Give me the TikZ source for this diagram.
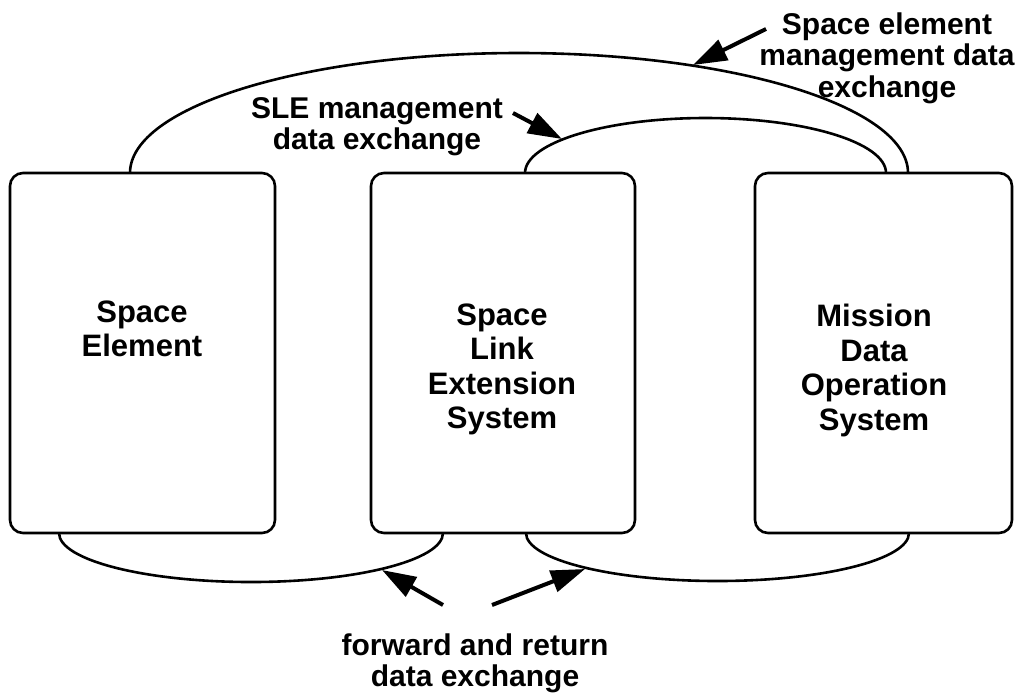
\documentclass[tikz,border=0pt]{standalone}
\usepackage{fontspec}
\setmainfont{Liberation Sans}
\usetikzlibrary{arrows.meta}
\tikzstyle{block}=[draw, line width=1.3pt, rounded corners=6.5pt, inner sep=0, outer sep=0, minimum height=180pt]
\tikzstyle{blocklabel}=[align=center, inner sep=0, anchor=north, font=\fontsize{15.5}{17.25}\selectfont\bfseries]
\tikzstyle{note}=[align=center, inner sep=0, anchor=north, font=\fontsize{15}{15.75}\selectfont\bfseries]
\tikzstyle{link}=[line width=1.3pt]
\tikzstyle{pointer}=[line width=2pt, -{Triangle[length=17pt, width=11pt]}]
\tikzstyle{overview}=[x=0.5pt, y=-0.5pt,
                      % Picture frame in pixel units of the page.
                      execute at begin picture={\useasboundingbox (0, 0) rectangle (1015, 692);}]

\begin{document}
\begin{tikzpicture}[overview]
    % The three systems.
    \node[block, minimum width=132.5pt] (se)   at (142.5, 353) {};
    \node[block, minimum width=132pt]   (sle)  at (503, 353)   {};
    \node[block, minimum width=128.5pt] (mdos) at (883.5, 353) {};
    \node[blocklabel] (setext)   at (142, 300) {Space\\Element};
    \node[blocklabel] (sletext)  at (502, 303) {Space\\Link\\Extension\\System};
    \node[blocklabel] (mdostext) at (874, 304) {Mission\\Data\\Operation\\System};

    % Exchanges between them.
    \draw[link] (se.north) ++(-12.5, 0) arc[start angle=180, end angle=360, x radius=389, y radius=120];
    \draw[link] (sle.north) ++(22, 0) arc[start angle=180, end angle=360, x radius=180.5, y radius=55];
    \draw[link] (se.south) ++(-83.5, 0) arc[start angle=180, end angle=0, x radius=192, y radius=49];
    \draw[link] (sle.south) ++(23, 0) arc[start angle=180, end angle=0, x radius=191.5, y radius=48];

    \node[note] (senote)  at (887, 12)  {Space element\\management data\\exchange};
    \node[note] (slenote) at (377, 97)  {SLE management\\data exchange};
    \node[note] (fwdnote) at (475, 633) {forward and return\\data exchange};

    \coordinate (setail)  at (766, 29);
    \coordinate (setip)   at (693, 65);
    \coordinate (sletail) at (513, 113);
    \coordinate (sletip)  at (562, 139);
    \coordinate (fwdtail) at (443, 605);
    \coordinate (fwdtip)  at (382, 570);
    \coordinate (rettail) at (492, 605);
    \coordinate (rettip)  at (585, 569);
    \draw[pointer] (setail) -- (setip);
    \draw[pointer] (sletail) -- (sletip);
    \draw[pointer] (fwdtail) -- (fwdtip);
    \draw[pointer] (rettail) -- (rettip);
\end{tikzpicture}
\end{document}
